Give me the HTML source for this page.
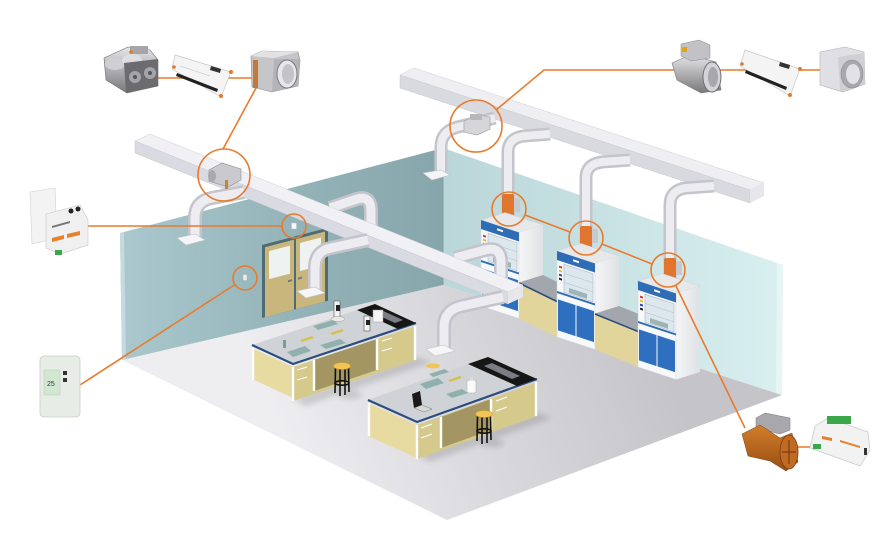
<!DOCTYPE html>
<html><head><meta charset="utf-8">
<style>html,body{margin:0;padding:0;background:#fff;width:888px;height:557px;overflow:hidden}svg{display:block}</style>
</head><body>
<svg width="888" height="557" viewBox="0 0 888 557" xmlns="http://www.w3.org/2000/svg" font-family="Liberation Sans, sans-serif">
<defs>
<linearGradient id="lw" gradientUnits="userSpaceOnUse" x1="120" y1="0" x2="443" y2="0"><stop offset="0" stop-color="#aac8cd"/><stop offset="0.55" stop-color="#93b3b8"/><stop offset="1" stop-color="#86a6ac"/></linearGradient>
<linearGradient id="rw" gradientUnits="userSpaceOnUse" x1="443" y1="0" x2="783" y2="0"><stop offset="0" stop-color="#b9d6d8"/><stop offset="1" stop-color="#d9eff0"/></linearGradient>
<linearGradient id="fl" gradientUnits="userSpaceOnUse" x1="650" y1="330" x2="300" y2="480"><stop offset="0" stop-color="#c4c4c9"/><stop offset="0.5" stop-color="#d8d8dc"/><stop offset="1" stop-color="#eeeef1"/></linearGradient>
<linearGradient id="metal" x1="0" y1="0" x2="0" y2="1"><stop offset="0" stop-color="#e6e6e8"/><stop offset="1" stop-color="#78787c"/></linearGradient>
<linearGradient id="metal2" x1="0" y1="0" x2="1" y2="0"><stop offset="0" stop-color="#8a8a8e"/><stop offset="0.5" stop-color="#ececee"/><stop offset="1" stop-color="#9c9ca0"/></linearGradient>
<linearGradient id="orng" x1="0" y1="0" x2="0" y2="1"><stop offset="0" stop-color="#d37e2c"/><stop offset="1" stop-color="#984d12"/></linearGradient>
<linearGradient id="side" x1="0" y1="0" x2="1" y2="0"><stop offset="0" stop-color="#f4f5f6"/><stop offset="1" stop-color="#dfe2e5"/></linearGradient>
<filter id="blur" x="-30%" y="-30%" width="160%" height="160%"><feGaussianBlur stdDeviation="3"/></filter>
</defs>

<!-- floor & walls -->
<polygon points="122,360 443,285 782,395 447,520" fill="url(#fl)"/>
<polygon points="120,233 443,148 443,285 122,360" fill="url(#lw)"/>
<polygon points="443,148 783,265 782,395 443,285" fill="url(#rw)"/>
<polygon points="777,263 783,265 782,395 776,393" fill="#e8f5f6"/>
<line x1="443" y1="148" x2="443" y2="285" stroke="#7f9ea3" stroke-width="1"/>
<polygon points="120,233 124,232 126,359 122,360" fill="#c4dade"/>

<!-- door -->
<g transform="translate(262,245) matrix(1,-0.262,0,1,0,0)">
 <rect width="66" height="73" fill="#4e6c74"/>
 <rect x="3" y="3" width="29" height="70" fill="#c8b67c"/>
 <rect x="34" y="3" width="29" height="70" fill="#c8b67c"/>
 <rect x="7" y="8" width="21" height="28" fill="#eef3f2"/>
 <rect x="38" y="8" width="21" height="28" fill="#eef3f2"/>
 <rect x="26" y="42" width="4" height="2" fill="#6f7a80"/>
 <rect x="36" y="42" width="4" height="2" fill="#6f7a80"/>
</g>

<!-- beam 2 -->
<polygon points="400,75 414,68 764,183 750,190" fill="#efeff3" stroke="#d0d0d8" stroke-width="0.5"/>
<polygon points="400,75 750,190 750,203 400,88" fill="#d9d9e0" stroke="#c8c8d0" stroke-width="0.5"/>
<polygon points="750,190 764,183 764,196 750,203" fill="#e6e6ec"/>

<!-- E pipes -->
<g fill="none" stroke-linecap="butt">
 <g stroke="#c4c4cc" stroke-width="13">
  <path d="M495,118 L458,127 Q441,131 441,147 L441,172"/>
  <path d="M550,134 L524,136 Q508,138 508,152 L508,228"/>
  <path d="M630,160 L602,162 Q586,164 586,178 L586,258"/>
  <path d="M714,186 L686,188 Q670,190 670,205 L670,289"/>
 </g>
 <g stroke="#ededf1" stroke-width="8">
  <path d="M495,118 L458,127 Q441,131 441,147 L441,172"/>
  <path d="M550,134 L524,136 Q508,138 508,152 L508,228"/>
  <path d="M630,160 L602,162 Q586,164 586,178 L586,258"/>
  <path d="M714,186 L686,188 Q670,190 670,205 L670,289"/>
 </g>
</g>
<polygon points="423,173 441,170 450,175 432,180" fill="#f6f6f8" stroke="#c4c4cc" stroke-width="0.6"/>
<!-- C4 damper -->
<polygon points="464,121 478,115 490,117 490,129 477,135 464,132" fill="#d6d6da" stroke="#9a9aa0" stroke-width="0.6"/>
<rect x="470" y="114" width="12" height="6" fill="#b8b8bc"/>
<!-- orange dampers on fume pipes -->
<rect x="502" y="194" width="12" height="24" rx="2" fill="#e0752e"/>
<rect x="514" y="198" width="6" height="14" fill="#c9c9cd"/>
<rect x="580" y="226" width="12" height="23" rx="2" fill="#e0752e"/>
<rect x="592" y="229" width="6" height="14" fill="#c9c9cd"/>
<rect x="664" y="258" width="12" height="23" rx="2" fill="#e0752e"/>
<rect x="676" y="261" width="6" height="14" fill="#c9c9cd"/>

<!-- hood 1 -->
<g transform="translate(481,220)">
 <polygon points="0,0 24,-7.5 62,5 38,12.5" fill="#e6e8ea" stroke="#cfd2d6" stroke-width="0.5"/>
 <g transform="translate(38,12.5) matrix(1,-0.3125,0,1,0,0)"><rect width="24" height="86" fill="url(#side)"/></g>
 <g transform="matrix(1,0.329,0,1,0,0)">
  <rect width="38" height="86" fill="#f7f8fa" stroke="#cfd4da" stroke-width="0.5"/>
  <rect width="38" height="9" fill="#2f6cb6"/><rect x="16" y="3" width="6" height="2" fill="#fff"/>
  <rect x="7" y="11" width="29" height="28" fill="#dde7ee" stroke="#aab8c4" stroke-width="0.6"/>
  <line x1="7" y1="20" x2="36" y2="20" stroke="#b8c4cc" stroke-width="0.6"/><line x1="7" y1="29" x2="36" y2="29" stroke="#b8c4cc" stroke-width="0.6"/>
  <rect x="12" y="33" width="18" height="5" fill="#9fb4b4"/>
  <rect x="2" y="14" width="3" height="2" fill="#d33"/><rect x="2" y="18" width="3" height="2" fill="#e8c020"/><rect x="2" y="22" width="3" height="2" fill="#2244cc"/><rect x="2" y="26" width="3" height="2" fill="#222"/>
  <rect y="40" width="38" height="2" fill="#2f6cb6"/>
  <rect x="1" y="48" width="17.5" height="31" fill="#2e6fc0"/><rect x="19.5" y="48" width="17.5" height="31" fill="#2e6fc0"/>
 </g>
</g>
<!-- counter 1-2 -->
<polygon points="519,282.5 543,275 581,293.5 557,301" fill="#a2a6ad"/>
<polygon points="519,282.5 557,301 557,337 519,318.5" fill="#e2d59b"/>
<line x1="519" y1="283" x2="557" y2="301.5" stroke="#2b4d7e" stroke-width="1.6"/>
<!-- hood 2 -->
<g transform="translate(557,251)">
 <polygon points="0,0 24,-7.5 62,5 38,12.5" fill="#e6e8ea" stroke="#cfd2d6" stroke-width="0.5"/>
 <g transform="translate(38,12.5) matrix(1,-0.3125,0,1,0,0)"><rect width="24" height="86" fill="url(#side)"/></g>
 <g transform="matrix(1,0.329,0,1,0,0)">
  <rect width="38" height="86" fill="#f7f8fa" stroke="#cfd4da" stroke-width="0.5"/>
  <rect width="38" height="9" fill="#2f6cb6"/><rect x="16" y="3" width="6" height="2" fill="#fff"/>
  <rect x="7" y="11" width="29" height="28" fill="#dde7ee" stroke="#aab8c4" stroke-width="0.6"/>
  <line x1="7" y1="20" x2="36" y2="20" stroke="#b8c4cc" stroke-width="0.6"/><line x1="7" y1="29" x2="36" y2="29" stroke="#b8c4cc" stroke-width="0.6"/>
  <rect x="12" y="33" width="18" height="5" fill="#9fb4b4"/>
  <rect x="2" y="14" width="3" height="2" fill="#d33"/><rect x="2" y="18" width="3" height="2" fill="#e8c020"/><rect x="2" y="22" width="3" height="2" fill="#2244cc"/><rect x="2" y="26" width="3" height="2" fill="#222"/>
  <rect y="40" width="38" height="2" fill="#2f6cb6"/>
  <rect x="1" y="48" width="17.5" height="31" fill="#2e6fc0"/><rect x="19.5" y="48" width="17.5" height="31" fill="#2e6fc0"/>
 </g>
</g>
<!-- counter 2-3 -->
<polygon points="595,313.5 619,306 662,323.5 638,331" fill="#a2a6ad"/>
<polygon points="595,313.5 638,331 638,367 595,349.5" fill="#e2d59b"/>
<line x1="595" y1="314" x2="638" y2="331.5" stroke="#2b4d7e" stroke-width="1.6"/>
<!-- hood 3 -->
<g transform="translate(638,281)">
 <polygon points="0,0 24,-7.5 62,5 38,12.5" fill="#e6e8ea" stroke="#cfd2d6" stroke-width="0.5"/>
 <g transform="translate(38,12.5) matrix(1,-0.3125,0,1,0,0)"><rect width="24" height="86" fill="url(#side)"/></g>
 <g transform="matrix(1,0.329,0,1,0,0)">
  <rect width="38" height="86" fill="#f7f8fa" stroke="#cfd4da" stroke-width="0.5"/>
  <rect width="38" height="9" fill="#2f6cb6"/><rect x="16" y="3" width="6" height="2" fill="#fff"/>
  <rect x="7" y="11" width="29" height="28" fill="#dde7ee" stroke="#aab8c4" stroke-width="0.6"/>
  <line x1="7" y1="20" x2="36" y2="20" stroke="#b8c4cc" stroke-width="0.6"/><line x1="7" y1="29" x2="36" y2="29" stroke="#b8c4cc" stroke-width="0.6"/>
  <rect x="12" y="33" width="18" height="5" fill="#9fb4b4"/>
  <rect x="2" y="14" width="3" height="2" fill="#d33"/><rect x="2" y="18" width="3" height="2" fill="#e8c020"/><rect x="2" y="22" width="3" height="2" fill="#2244cc"/><rect x="2" y="26" width="3" height="2" fill="#222"/>
  <rect y="40" width="38" height="2" fill="#2f6cb6"/>
  <rect x="1" y="48" width="17.5" height="31" fill="#2e6fc0"/><rect x="19.5" y="48" width="17.5" height="31" fill="#2e6fc0"/>
 </g>
</g>

<!-- back pipes of beam 1 -->
<g fill="none">
 <g stroke="#c4c4cc" stroke-width="14">
  <path d="M330,208 L357,199 Q371,195 371,211 L371,240"/>
  <path d="M455,258 L485,250 Q501,246 501,262 L501,300"/>
 </g>
 <g stroke="#ededf1" stroke-width="9">
  <path d="M330,208 L357,199 Q371,195 371,211 L371,240"/>
  <path d="M455,258 L485,250 Q501,246 501,262 L501,300"/>
 </g>
</g>

<!-- beam 1 -->
<polygon points="135,141 150,134 523,285 508,292" fill="#f1f1f5" stroke="#d0d0d8" stroke-width="0.5"/>
<polygon points="135,141 508,292 508,304 135,153" fill="#dadae2" stroke="#c8c8d0" stroke-width="0.5"/>
<polygon points="508,292 523,285 523,297 508,304" fill="#e6e6ec"/>

<!-- front pipes of beam 1 -->
<g fill="none">
 <g stroke="#c4c4cc" stroke-width="14">
  <path d="M244,192 L212,198 Q195,201 195,218 L195,237"/>
  <path d="M368,240 L331,248 Q315,251 315,268 L315,290"/>
  <path d="M503,297 L462,306 Q444,310 444,327 L444,348"/>
 </g>
 <g stroke="#ededf1" stroke-width="9">
  <path d="M244,192 L212,198 Q195,201 195,218 L195,237"/>
  <path d="M368,240 L331,248 Q315,251 315,268 L315,290"/>
  <path d="M503,297 L462,306 Q444,310 444,327 L444,348"/>
 </g>
</g>
<g fill="#f6f6f8" stroke="#c4c4cc" stroke-width="0.6">
 <polygon points="177,238 195,234 205,240 186,245"/>
 <polygon points="297,291 315,287 325,293 306,298"/>
 <polygon points="426,349 444,345 455,351 435,356"/>
</g>

<!-- C1 damper on beam -->
<polygon points="209,170 222,163 241,169 241,180 228,187 209,181" fill="#cacace" stroke="#8e8e94" stroke-width="0.6"/>
<ellipse cx="212" cy="176" rx="4" ry="6" fill="#a8a8ae"/>
<rect x="225" y="180" width="3" height="9" fill="#c28a2e"/>
<!-- wall sensors -->
<rect x="291.5" y="223" width="5" height="6" fill="#f8f8f8" stroke="#b8c0c2" stroke-width="0.5"/>
<rect x="243" y="274.5" width="4" height="6" fill="#e8eeee" stroke="#a8b4b6" stroke-width="0.5"/>

<!-- shadows -->
<g fill="#000" opacity="0.13" filter="url(#blur)">
 <polygon points="293,398 416,357 432,362 305,406"/>
 <polygon points="417,455 537,413 552,418 430,462"/>
 <ellipse cx="350" cy="395" rx="12" ry="4"/>
 <ellipse cx="492" cy="443" rx="12" ry="4"/>
</g>

<!-- bench A -->
<polygon points="252,348 293,367 293,398 252,379" fill="#e7dba2"/>
<polygon points="293,367 416,326 416,360 293,401" fill="#d6c98c"/>
<polygon points="314,360 377,339 377,370 314,391" fill="#a39662"/>
<polygon points="252,345 293,364 416,323 375,304" fill="#cfd3d8"/>
<polyline points="252,345 293,364 416,323" fill="none" stroke="#2b4d7e" stroke-width="2.2"/>
<polygon points="375,304 416,323 398,329 357,310" fill="#161616"/>
<polygon points="381,310 403,320 395,323 373,313" fill="#7a7e84"/>
<g stroke="#fff" stroke-width="2.4">
 <line x1="253" y1="348" x2="253" y2="380"/><line x1="293" y1="367" x2="293" y2="401"/>
 <line x1="314" y1="360" x2="314" y2="391"/><line x1="377" y1="339" x2="377" y2="370"/><line x1="415" y1="326" x2="415" y2="360"/>
</g>
<g stroke="#fff" stroke-width="1"><line x1="297" y1="370" x2="307" y2="367"/><line x1="297" y1="380" x2="307" y2="377"/><line x1="382" y1="341" x2="392" y2="338"/><line x1="382" y1="351" x2="392" y2="348"/></g>
<!-- bench A items -->
<g>
 <polygon points="313,326 333,320 338,324 318,330" fill="#8fb1ad"/>
 <polygon points="287,352 305,346 311,351 293,357" fill="#8fb1ad"/>
 <polygon points="320,345 340,339 346,343 326,349" fill="#8fb1ad"/>
 <polygon points="300,340 312,336 314,338 302,342" fill="#d8c050"/>
 <polygon points="330,333 342,329 344,331 332,335" fill="#d8c050"/>
 <rect x="334" y="301" width="6" height="16" fill="#f2f2f2" stroke="#555" stroke-width="0.6"/>
 <rect x="336" y="305" width="4" height="6" fill="#222"/>
 <ellipse cx="338" cy="319" rx="7" ry="2.5" fill="#e8e8e8" stroke="#999" stroke-width="0.5"/>
 <rect x="364" y="316" width="6" height="15" fill="#f2f2f2" stroke="#555" stroke-width="0.6"/>
 <rect x="366" y="320" width="4" height="5" fill="#222"/>
 <rect x="373" y="310" width="10" height="12" fill="#f6f6f6" stroke="#999" stroke-width="0.5"/>
 <rect x="283" y="340" width="3" height="8" fill="#7f9a98"/>
</g>
<!-- stool A -->
<g stroke="#111" stroke-width="1.6">
 <line x1="335.5" y1="368" x2="335" y2="393"/><line x1="348.5" y1="368" x2="349" y2="392"/><line x1="340" y1="369" x2="340" y2="396"/><line x1="345" y1="369" x2="345" y2="395"/>
 <ellipse cx="342" cy="383" rx="7" ry="2.2" fill="none"/>
</g>
<ellipse cx="342" cy="366" rx="8.5" ry="3.5" fill="#f1c456" stroke="#c99a30" stroke-width="0.6"/>

<!-- bench B -->
<polygon points="368,403 417,425 417,458 368,436" fill="#e7dba2"/>
<polygon points="417,425 537,382 537,416 417,459" fill="#d6c98c"/>
<polygon points="441,417 491,399 491,430 441,448" fill="#a39662"/>
<polygon points="368,400 417,422 537,379 488,357" fill="#cfd3d8"/>
<polyline points="368,400 417,422 537,379" fill="none" stroke="#2b4d7e" stroke-width="2.2"/>
<polygon points="488,357 537,379 517,386 468,364" fill="#161616"/>
<polygon points="492,363 520,376 512,379 484,366" fill="#7a7e84"/>
<g stroke="#fff" stroke-width="2.4">
 <line x1="369" y1="403" x2="369" y2="436"/><line x1="417" y1="425" x2="417" y2="459"/>
 <line x1="441" y1="417" x2="441" y2="448"/><line x1="491" y1="399" x2="491" y2="430"/><line x1="536" y1="382" x2="536" y2="416"/>
</g>
<g stroke="#fff" stroke-width="1"><line x1="421" y1="428" x2="432" y2="424"/><line x1="421" y1="438" x2="432" y2="434"/><line x1="496" y1="401" x2="507" y2="397"/><line x1="496" y1="411" x2="507" y2="407"/></g>
<!-- bench B items -->
<g>
 <polygon points="420,384 438,378 444,383 426,389" fill="#8fb1ad"/>
 <polygon points="446,394 462,389 468,393 452,398" fill="#8fb1ad"/>
 <polygon points="429,374 445,369 449,372 433,377" fill="#8fb1ad"/>
 <polygon points="448,380 460,376 462,378 450,382" fill="#d8c050"/>
 <polygon points="412,394 420,391 422,405 414,408" fill="#1a1a1a"/>
 <polygon points="414,408 422,405 432,409 424,412" fill="#d8d8d8" stroke="#666" stroke-width="0.4"/>
 <rect x="467" y="380" width="9" height="13" rx="2" fill="#fafafa" stroke="#aaa" stroke-width="0.5"/>
 <rect x="470" y="377" width="3" height="3" fill="#ddd"/>
 <ellipse cx="433" cy="366" rx="7" ry="2.5" fill="#f1c456"/>
</g>
<!-- stool B -->
<g stroke="#111" stroke-width="1.6">
 <line x1="477.5" y1="416" x2="477" y2="441"/><line x1="490.5" y1="416" x2="491" y2="440"/><line x1="482" y1="417" x2="482" y2="444"/><line x1="487" y1="417" x2="487" y2="443"/>
 <ellipse cx="484" cy="431" rx="7" ry="2.2" fill="none"/>
</g>
<ellipse cx="484" cy="414" rx="8.5" ry="3.5" fill="#f1c456" stroke="#c99a30" stroke-width="0.6"/>

<!-- orange connectors -->
<g fill="none" stroke="#ea7a2c" stroke-width="1.6">
 <line x1="223" y1="149" x2="256" y2="88"/>
 <line x1="155" y1="78" x2="252" y2="78"/>
 <line x1="282" y1="226" x2="82" y2="226"/>
 <line x1="235" y1="284.5" x2="80" y2="385"/>
 <polyline points="496,110 544,70 820,70"/>
 <line x1="525" y1="215" x2="570" y2="232"/>
 <line x1="602" y1="244" x2="652" y2="264"/>
 <line x1="675.5" y1="285" x2="745" y2="428"/>
 <line x1="795" y1="447" x2="815" y2="447"/>
 <circle cx="224" cy="175" r="26"/>
 <circle cx="294" cy="226" r="12"/>
 <circle cx="245" cy="278" r="12"/>
 <circle cx="476" cy="126" r="26"/>
 <circle cx="509" cy="209" r="17"/>
 <circle cx="586" cy="238" r="17"/>
 <circle cx="668" cy="270" r="17"/>
</g>

<!-- device: twin damper -->
<g>
 <polygon points="104,58 128,47 150,50 158,60 158,86 127,93 106,80" fill="url(#metal)" stroke="#6e6e72" stroke-width="0.6"/>
 <ellipse cx="115" cy="64" rx="10" ry="6" fill="#d0d0d4"/>
 <ellipse cx="132" cy="60" rx="10" ry="6" fill="#dedee2"/>
 <polygon points="124,63 158,59 158,86 126,93" fill="#6c6c70"/>
 <circle cx="135" cy="77" r="6" fill="#a4a4a8"/><circle cx="150" cy="73" r="6" fill="#a4a4a8"/>
 <circle cx="135" cy="77" r="2" fill="#555"/><circle cx="150" cy="73" r="2" fill="#555"/>
 <rect x="130" y="46" width="18" height="8" fill="#a6a6aa"/>
 <circle cx="131" cy="52" r="1.8" fill="#e07a2a"/>
</g>
<!-- controller 1 -->
<g>
 <polygon points="175,55 231,72 221,97 172,69" fill="#f4f4f4" stroke="#c6c6c6" stroke-width="0.7"/>
 <polygon points="177,73 218,89 217,92 176,76" fill="#222"/>
 <polygon points="211,66 221,69 220,73 210,70" fill="#333"/>
 <line x1="180" y1="66" x2="210" y2="76" stroke="#bbb" stroke-width="0.5"/>
 <circle cx="231" cy="72" r="2" fill="#e07a2a"/><circle cx="221" cy="96" r="2" fill="#e07a2a"/><circle cx="174" cy="67" r="1.8" fill="#e07a2a"/>
</g>
<!-- box damper 1 -->
<g>
 <polygon points="251,56 262,51 298,52 300,60 298,86 272,92 252,87" fill="#c6c6ca" stroke="#8a8a8e" stroke-width="0.6"/>
 <polygon points="251,56 262,51 298,52 274,58" fill="#e2e2e4"/>
 <polygon points="274,59 300,59 298,86 272,92" fill="#b4b4b8"/>
 <ellipse cx="287" cy="74" rx="10" ry="14" fill="#e8e8ec" stroke="#7c7c80" stroke-width="1"/>
 <ellipse cx="288" cy="74" rx="6" ry="10" fill="#c4c4c8"/>
 <rect x="253" y="60" width="5" height="28" fill="#c27a34"/>
</g>
<!-- wall module -->
<g>
 <polygon points="30,192 55,188 57,238 32,244" fill="#f3f3f3" stroke="#d0d0d0" stroke-width="0.6"/>
 <polygon points="46,214 80,205 88,220 88,245 60,254 46,248" fill="#f0f0f0" stroke="#c8c8c8" stroke-width="0.6"/>
 <circle cx="71" cy="211" r="2.5" fill="#222"/><circle cx="78" cy="209" r="2.5" fill="#222"/>
 <polygon points="52,226 70,221 70,223 52,228" fill="#777"/>
 <polygon points="52,238 64,235 64,239 52,242" fill="#e8802a"/>
 <polygon points="67,234 80,231 80,235 67,238" fill="#e8802a"/>
 <rect x="55" y="250" width="7" height="5" fill="#3aa84a"/>
</g>
<!-- thermostat -->
<g>
 <rect x="40" y="356" width="40" height="61" rx="4" fill="#e7ede6" stroke="#c8d0c8" stroke-width="0.8"/>
 <rect x="44" y="370" width="16" height="25" fill="#d2e7d2" stroke="#b8c8b8" stroke-width="0.5"/>
 <text x="47" y="386" font-size="7" fill="#333">25</text>
 <rect x="63" y="371" width="4" height="4" fill="#333"/><rect x="63" y="378" width="4" height="4" fill="#333"/>
</g>
<!-- round damper -->
<g>
 <polygon points="672,63 690,55 716,62 721,90 701,93 677,80" fill="url(#metal)" stroke="#7a7a7e" stroke-width="0.6"/>
 <polygon points="681,44 699,40 710,45 710,58 691,61 681,56" fill="#c2c2c6" stroke="#8a8a8e" stroke-width="0.5"/>
 <rect x="682" y="47" width="5" height="5" fill="#e0a020"/>
 <ellipse cx="712" cy="77" rx="9" ry="15" fill="#d4d4d8" stroke="#707074" stroke-width="1"/>
 <ellipse cx="713" cy="77" rx="5" ry="10" fill="#a8a8ac"/>
</g>
<!-- controller 2 -->
<g>
 <polygon points="745,50 800,69 790,96 740,66" fill="#f4f4f4" stroke="#c6c6c6" stroke-width="0.7"/>
 <polygon points="746,70 787,87 786,90 745,73" fill="#222"/>
 <polygon points="780,62 790,65 789,69 779,66" fill="#333"/>
 <circle cx="800" cy="69" r="2" fill="#e07a2a"/><circle cx="790" cy="95" r="2" fill="#e07a2a"/><circle cx="742" cy="64" r="1.8" fill="#e07a2a"/>
</g>
<!-- box 2 -->
<g>
 <polygon points="820,52 845,47 864,52 865,84 843,92 820,85" fill="#e0e0e4" stroke="#b0b0b4" stroke-width="0.6"/>
 <polygon points="838,57 864,53 865,84 840,92" fill="#d0d0d4"/>
 <ellipse cx="852" cy="74" rx="11" ry="14" fill="#a8a8ae" stroke="#8a8a8e" stroke-width="0.6"/>
 <ellipse cx="853" cy="74" rx="7" ry="10" fill="#e2e2e6"/>
</g>
<!-- orange fan -->
<g>
 <polygon points="756,418 765,413 790,418 790,430 780,434 756,428" fill="#a8a8ac" stroke="#77777b" stroke-width="0.5"/>
 <polygon points="742,434 760,425 780,438 792,433 798,462 786,471 770,461 748,456" fill="url(#orng)" stroke="#7a3d10" stroke-width="0.5"/>
 <ellipse cx="789" cy="452" rx="9" ry="17" fill="#c06a24" stroke="#7a3d10" stroke-width="0.8"/>
 <g stroke="#7a3d10" stroke-width="1.2"><line x1="789" y1="440" x2="789" y2="464"/><line x1="782" y1="452" x2="796" y2="452"/></g>
</g>
<!-- controller 3 -->
<g>
 <polygon points="815,426 828,418 868,432 870,450 860,466 810,448" fill="#f2f2f2" stroke="#c6c6c6" stroke-width="0.7"/>
 <rect x="827" y="416" width="24" height="8" fill="#3aa84a"/>
 <rect x="813" y="444" width="8" height="5" fill="#3aa84a"/>
 <polygon points="822,436 832,438 832,441 822,439" fill="#e8802a"/>
 <polygon points="840,440 860,446 860,448 840,442" fill="#e8802a"/>
 <rect x="864" y="448" width="3" height="7" fill="#333"/>
</g>
</svg>
</body></html>
